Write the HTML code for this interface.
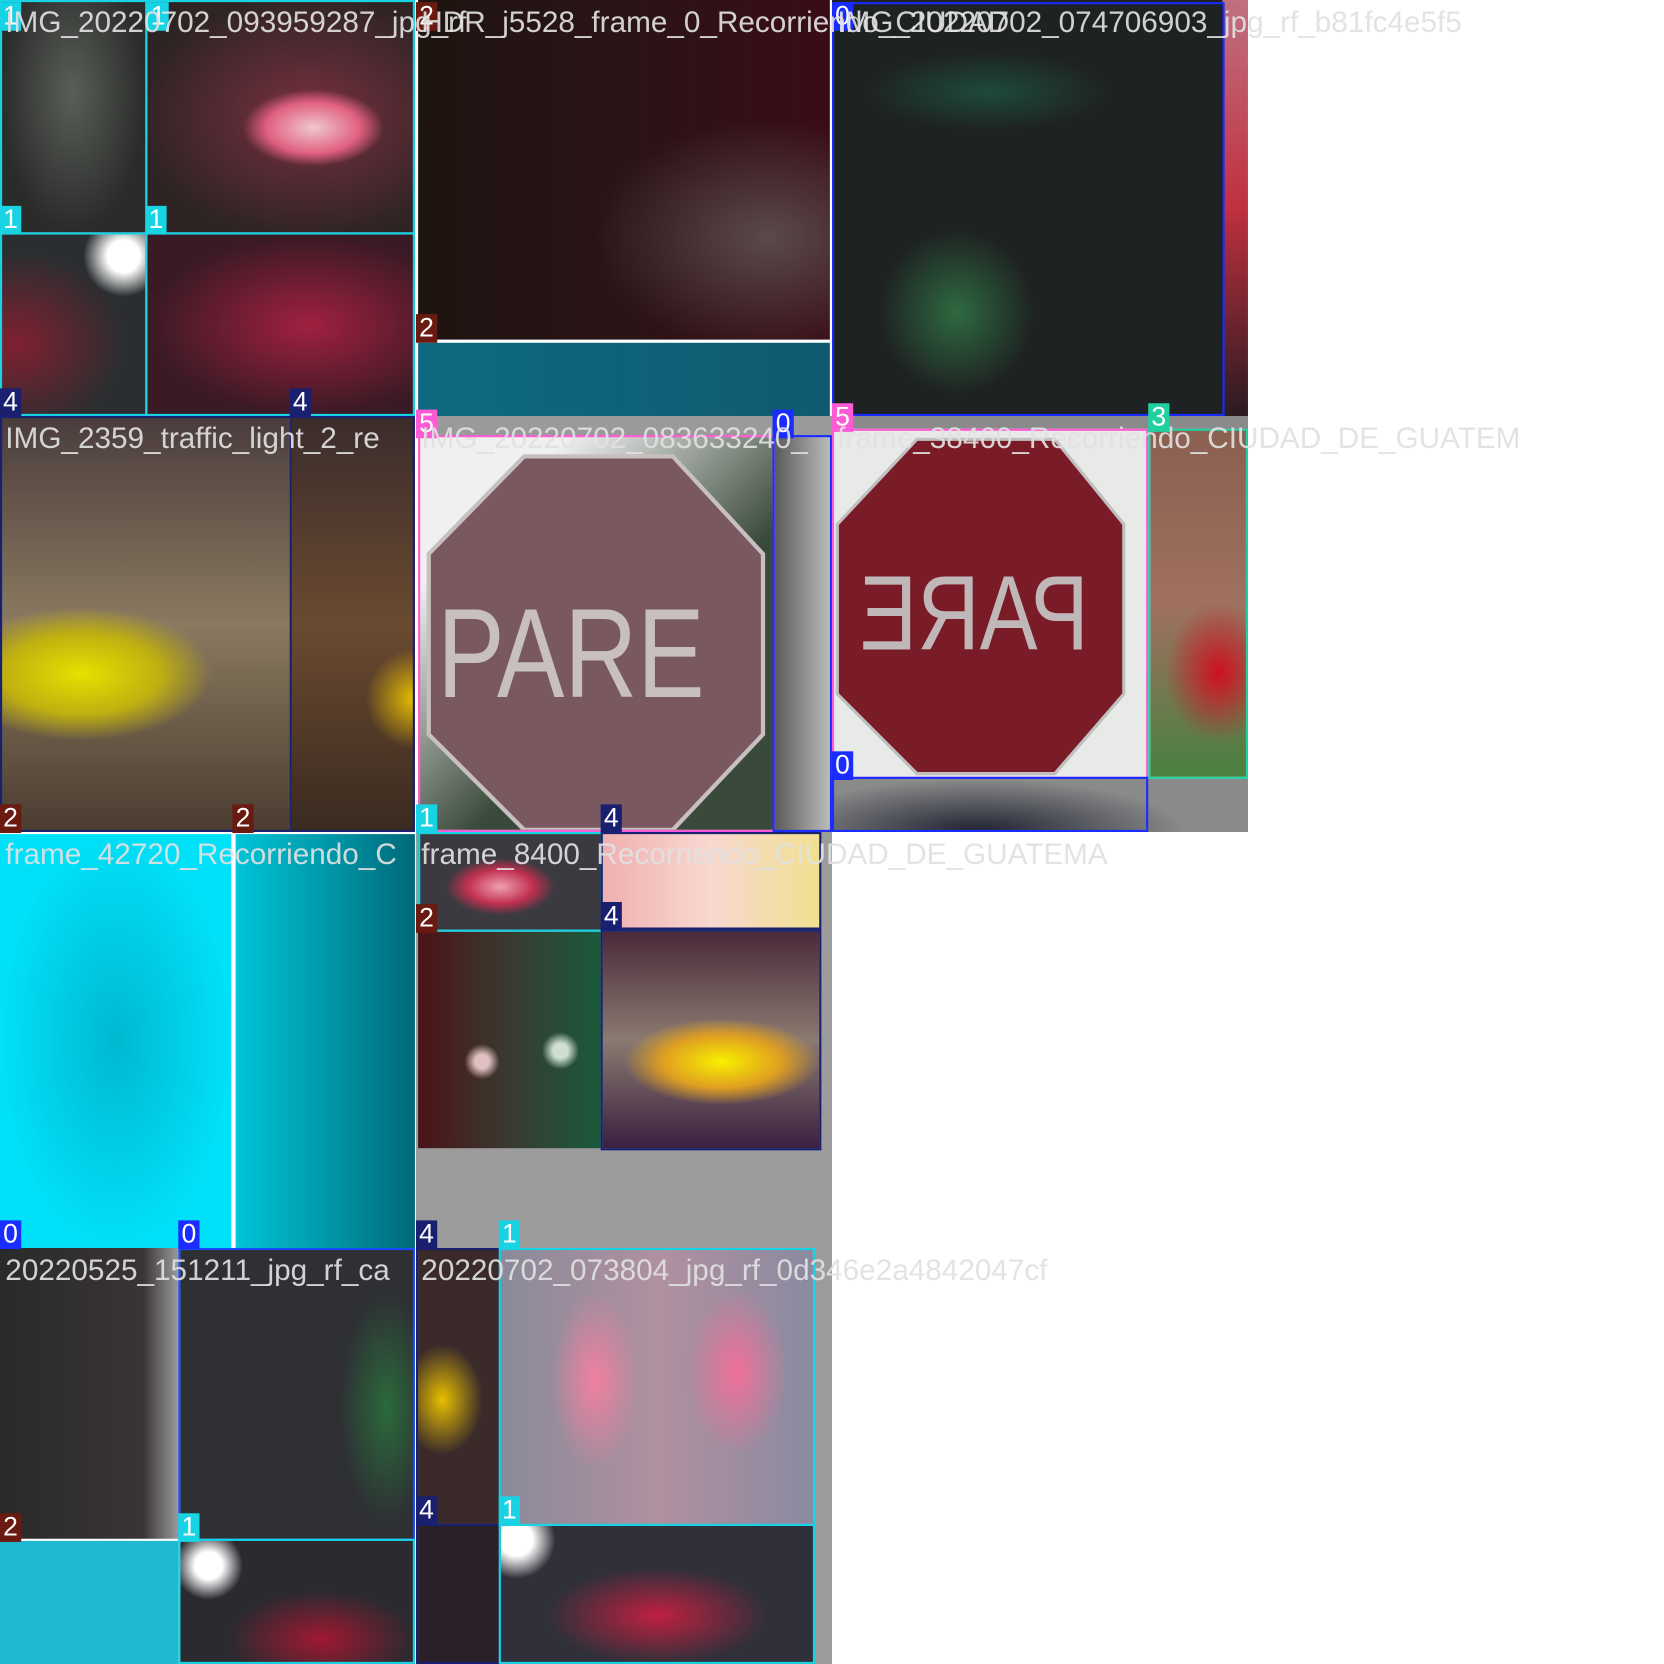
<!DOCTYPE html>
<html><head><meta charset="utf-8">
<style>
html,body{margin:0;padding:0;background:#fff;width:1664px;height:1664px;overflow:hidden}
#wrap{position:absolute;left:0;top:0;width:1568px;height:1568px;transform:scale(1.0612);transform-origin:0 0;font-family:"Liberation Sans",sans-serif}
.t{position:absolute;overflow:hidden}
.b{position:absolute;box-sizing:border-box;border:2px solid}
.l{position:absolute;color:#fff;font-size:25px;line-height:27px;height:27px;padding:0 3px}
.f{position:absolute;font-size:28px;color:rgba(225,225,225,0.92);white-space:nowrap;line-height:32px}
</style></head><body>
<div id="wrap">
<div class="t" style="left:0;top:0;width:137px;height:219px;background:radial-gradient(ellipse at 50% 40%,#5a5e58,#2a2c2a 70%)"></div>
<div class="t" style="left:139px;top:0;width:252px;height:219px;background:radial-gradient(ellipse 35% 22% at 62% 55%,#f0c8cc,#e06080 50%,transparent 75%),radial-gradient(ellipse at 60% 50%,#7a3040,#2e2424 75%)"></div>
<div class="t" style="left:0;top:221px;width:137px;height:171px;background:radial-gradient(circle at 85% 12%,#fff 8%,transparent 20%),radial-gradient(ellipse at 10% 60%,#802030,#2a2e30 60%)"></div>
<div class="t" style="left:139px;top:221px;width:252px;height:171px;background:radial-gradient(ellipse at 60% 50%,#a02040,#3a1a24 70%)"></div>
<div class="b" style="left:0;top:0;width:139px;height:221px;border-color:#17d3e3"></div>
<div class="b" style="left:137px;top:0;width:254px;height:221px;border-color:#17d3e3"></div>
<div class="b" style="left:0;top:219px;width:139px;height:173px;border-color:#17d3e3"></div>
<div class="b" style="left:137px;top:219px;width:254px;height:173px;border-color:#17d3e3"></div>

<div class="t" style="left:394px;top:0;width:388px;height:320px;background:radial-gradient(ellipse at 85% 70%,#5a4a4a,transparent 35%),linear-gradient(90deg,#1e1410,#2a1418 50%,#3a0c18)"></div>
<div class="t" style="left:394px;top:323px;width:388px;height:69px;background:linear-gradient(90deg,#0e6a80,#0f5a70)"></div>

<div class="t" style="left:784px;top:0;width:368px;height:392px;background:radial-gradient(ellipse 25% 25% at 32% 75%,#2e6a40,transparent 80%),radial-gradient(ellipse 40% 12% at 40% 22%,#1e4a3a,transparent 80%),#1e2222"></div>
<div class="t" style="left:1152px;top:0;width:24px;height:392px;background:linear-gradient(#c07080,#c03040 50%,#2a1a20)"></div>
<div class="b" style="left:784px;top:2px;width:370px;height:390px;border-color:#1a2cff"></div>

<div class="t" style="left:0;top:392px;width:273px;height:392px;background:radial-gradient(ellipse 45% 16% at 28% 62%,#e8e000,#c0b010 60%,transparent 100%),linear-gradient(#4a3c3c,#8a7a60 50%,#4a3c30)"></div>
<div class="t" style="left:275px;top:392px;width:116px;height:392px;background:radial-gradient(ellipse 40% 12% at 100% 68%,#e8c000,transparent 100%),linear-gradient(#3a2c2c,#6a4a30 50%,#3a2a20)"></div>
<div class="b" style="left:0;top:392px;width:275px;height:392px;border-color:#1a2070"></div>
<div class="b" style="left:273px;top:392px;width:118px;height:392px;border-color:#1a2070"></div>

<div class="t" style="left:394px;top:392px;width:390px;height:20px;background:#9a9a9a"></div>
<div class="t" style="left:394px;top:412px;width:334px;height:370px;background:linear-gradient(135deg,#f0f0f0 20%,#3a4a3a 60%)">
 <svg width="334" height="370"><polygon points="100,18 240,18 325,110 325,280 240,370 100,370 10,280 10,110" fill="#7a5860" stroke="#c8c0c0" stroke-width="4"/><text x="18" y="245" font-family="Liberation Sans" font-size="120" fill="#c8c0bc" textLength="252" lengthAdjust="spacingAndGlyphs">PARE</text></svg>
</div>
<div class="t" style="left:730px;top:412px;width:52px;height:372px;background:linear-gradient(90deg,#5a5a5a,#bcbcbc)"></div>
<div class="b" style="left:394px;top:410px;width:336px;height:374px;border-color:#ff5ad6"></div>
<div class="b" style="left:728px;top:410px;width:56px;height:374px;border-color:#1a2cff"></div>

<div class="t" style="left:784px;top:404px;width:298px;height:328px;background:#e8eae8">
 <svg width="298" height="328"><polygon points="80,10 210,10 275,90 275,250 210,325 80,325 5,250 5,90" fill="#7a1c28" stroke="#c0c0c0" stroke-width="3"/><text transform="translate(290,0) scale(-1,1)" x="48" y="208" font-family="Liberation Sans" font-size="100" fill="#c0b8b8" textLength="216" lengthAdjust="spacingAndGlyphs">PARE</text></svg>
</div>
<div class="t" style="left:1084px;top:404px;width:92px;height:328px;background:radial-gradient(ellipse 55% 20% at 70% 70%,#d01020,transparent 100%),linear-gradient(#8a6050,#a07060 50%,#4a8040)"></div>
<div class="t" style="left:784px;top:734px;width:392px;height:50px;background:radial-gradient(ellipse 50% 100% at 35% 100%,#1e2230,#8a8a8a 100%)"></div>
<div class="t" style="left:784px;top:392px;width:392px;height:12px;background:#8a8a8a"></div>
<div class="b" style="left:784px;top:404px;width:298px;height:330px;border-color:#ff5ad6"></div>
<div class="b" style="left:1082px;top:404px;width:94px;height:330px;border-color:#20d0a0"></div>
<div class="b" style="left:784px;top:732px;width:298px;height:52px;border-color:#1a2cff"></div>

<div class="t" style="left:0;top:786px;width:218px;height:390px;background:radial-gradient(ellipse at 50% 50%,#00b8d0,#00e0f8 70%)"></div>
<div class="t" style="left:222px;top:786px;width:169px;height:390px;background:linear-gradient(90deg,#00c4d8,#0090a0 60%,#006878)"></div>
<div class="b" style="left:218px;top:784px;width:4px;height:392px;border-color:#fff"></div>

<div class="t" style="left:392px;top:784px;width:392px;height:392px;background:#9c9c9c"></div>
<div class="t" style="left:394px;top:786px;width:172px;height:90px;background:radial-gradient(ellipse 30% 30% at 45% 55%,#f0a0b0,#c03050 60%,#3a3a40 100%)"></div>
<div class="t" style="left:568px;top:786px;width:204px;height:88px;background:linear-gradient(90deg,#f0b0b0,#f8d8d0 50%,#f0e090)"></div>
<div class="t" style="left:394px;top:878px;width:172px;height:204px;background:radial-gradient(circle at 35% 60%,#e0c0c0 4%,transparent 10%),radial-gradient(circle at 78% 55%,#d0e0d0 4%,transparent 10%),linear-gradient(90deg,#4a1418,#3a3a30 50%,#1a5a3a)"></div>
<div class="t" style="left:568px;top:878px;width:204px;height:204px;background:radial-gradient(ellipse 45% 20% at 55% 60%,#f8f000,#e0a020 60%,transparent 100%),linear-gradient(#4a2a3a,#8a7a70 50%,#3a2040)"></div>
<div class="b" style="left:394px;top:784px;width:174px;height:94px;border-color:#17d3e3"></div>
<div class="b" style="left:566px;top:784px;width:208px;height:92px;border-color:#1a2070"></div>
<div class="b" style="left:566px;top:876px;width:208px;height:208px;border-color:#1a2070"></div>

<div class="t" style="left:0;top:1176px;width:168px;height:274px;background:linear-gradient(90deg,#2a2a2a,#3a3434 80%,#9a9a9a)"></div>
<div class="t" style="left:0;top:1452px;width:168px;height:116px;background:#20b8d0"></div>
<div class="t" style="left:170px;top:1176px;width:221px;height:274px;background:radial-gradient(ellipse 20% 40% at 88% 55%,#2a6a3a,transparent 100%),#2e3034"></div>
<div class="t" style="left:170px;top:1452px;width:221px;height:116px;background:radial-gradient(circle at 12% 20%,#fff 6%,transparent 15%),radial-gradient(ellipse 40% 40% at 60% 80%,#a01830,#2a2a30 100%)"></div>
<div class="b" style="left:168px;top:1176px;width:223px;height:276px;border-color:#1a4cff"></div>
<div class="b" style="left:168px;top:1450px;width:223px;height:118px;border-color:#17d3e3"></div>

<div class="t" style="left:392px;top:1176px;width:392px;height:392px;background:#9c9c9c"></div>
<div class="t" style="left:394px;top:1176px;width:76px;height:260px;background:radial-gradient(ellipse 50% 20% at 30% 55%,#e8c000,transparent 100%),#3a2a2a"></div>
<div class="t" style="left:394px;top:1438px;width:76px;height:130px;background:#2a2028"></div>
<div class="t" style="left:472px;top:1176px;width:296px;height:260px;background:radial-gradient(ellipse 14% 32% at 30% 48%,#f080a0,transparent 100%),radial-gradient(ellipse 16% 30% at 75% 45%,#f0709a,transparent 100%),linear-gradient(90deg,#8a8a9a,#b090a0 50%,#8a8aa0)"></div>
<div class="t" style="left:472px;top:1438px;width:296px;height:130px;background:radial-gradient(circle at 5% 10%,#fff 5%,transparent 12%),radial-gradient(ellipse 35% 35% at 50% 65%,#c02040,#30303a 100%)"></div>
<div class="b" style="left:392px;top:1176px;width:80px;height:262px;border-color:#1a2070"></div>
<div class="b" style="left:392px;top:1436px;width:80px;height:132px;border-color:#1a2070"></div>
<div class="b" style="left:470px;top:1176px;width:298px;height:262px;border-color:#17d3e3"></div>
<div class="b" style="left:470px;top:1436px;width:298px;height:132px;border-color:#17d3e3"></div>

<div class="l" style="left:0;top:2px;background:#17d3e3">1</div>
<div class="l" style="left:139px;top:2px;background:#17d3e3">1</div>
<div class="l" style="left:0;top:194px;background:#17d3e3">1</div>
<div class="l" style="left:137px;top:194px;background:#17d3e3">1</div>
<div class="l" style="left:0;top:366px;background:#1a2070">4</div>
<div class="l" style="left:273px;top:366px;background:#1a2070">4</div>
<div class="l" style="left:392px;top:2px;background:#6a1a10">2</div>
<div class="l" style="left:392px;top:296px;background:#6a1a10">2</div>
<div class="l" style="left:784px;top:2px;background:#1a2cff">0</div>
<div class="l" style="left:392px;top:386px;background:#ff5ad6">5</div>
<div class="l" style="left:728px;top:386px;background:#1a2cff">0</div>
<div class="l" style="left:784px;top:380px;background:#ff5ad6">5</div>
<div class="l" style="left:1082px;top:380px;background:#20d0a0">3</div>
<div class="l" style="left:784px;top:708px;background:#1a2cff">0</div>
<div class="l" style="left:0;top:758px;background:#6a1a10">2</div>
<div class="l" style="left:219px;top:758px;background:#6a1a10">2</div>
<div class="l" style="left:392px;top:758px;background:#17d3e3">1</div>
<div class="l" style="left:566px;top:758px;background:#1a2070">4</div>
<div class="l" style="left:392px;top:852px;background:#6a1a10">2</div>
<div class="l" style="left:566px;top:850px;background:#1a2070">4</div>
<div class="l" style="left:0;top:1150px;background:#1a2cff">0</div>
<div class="l" style="left:168px;top:1150px;background:#1a2cff">0</div>
<div class="l" style="left:392px;top:1150px;background:#1a2070">4</div>
<div class="l" style="left:470px;top:1150px;background:#17d3e3">1</div>
<div class="l" style="left:0;top:1426px;background:#6a1a10">2</div>
<div class="l" style="left:168px;top:1426px;background:#17d3e3">1</div>
<div class="l" style="left:392px;top:1410px;background:#1a2070">4</div>
<div class="l" style="left:470px;top:1410px;background:#17d3e3">1</div>

<div class="f" style="left:5px;top:5px">IMG_20220702_093959287_jpg_rf</div>
<div class="f" style="left:397px;top:5px">HDR_j5528_frame_0_Recorriendo_CIUDAD</div>
<div class="f" style="left:789px;top:5px">IMG_20220702_074706903_jpg_rf_b81fc4e5f5</div>
<div class="f" style="left:5px;top:397px">IMG_2359_traffic_light_2_re</div>
<div class="f" style="left:397px;top:397px">IMG_20220702_083633240_</div>
<div class="f" style="left:789px;top:397px">frame_38460_Recorriendo_CIUDAD_DE_GUATEM</div>
<div class="f" style="left:5px;top:789px">frame_42720_Recorriendo_C</div>
<div class="f" style="left:397px;top:789px">frame_8400_Recorriendo_CIUDAD_DE_GUATEMA</div>
<div class="f" style="left:5px;top:1181px">20220525_151211_jpg_rf_ca</div>
<div class="f" style="left:397px;top:1181px">20220702_073804_jpg_rf_0d346e2a4842047cf</div>
</div>
</body></html>
